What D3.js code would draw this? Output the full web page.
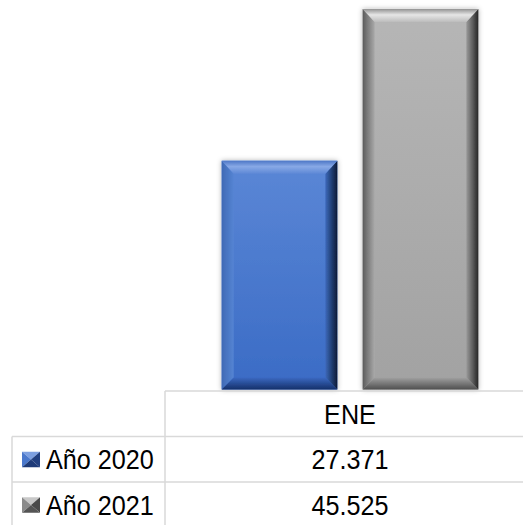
<!DOCTYPE html>
<html>
<head>
<meta charset="utf-8">
<script src="https://cdn.jsdelivr.net/npm/d3@7"></script>
<style>
  html, body { margin: 0; padding: 0; background: #ffffff; }
  svg { display: block; }
  text { font-family: "Liberation Sans", Arial, sans-serif; fill: #000; }
</style>
</head>
<body>
<script>
// Monthly values per year (thousands)
const categories = ["ENE"];
const seriesNames = ["Año 2020", "Año 2021"];
const values2020 = [27.371];
const values2021 = [45.525];
const valueLabels2020 = ["27.371"];
const valueLabels2021 = ["45.525"];

const series = [
  { name: seriesNames[0], values: values2020, labels: valueLabels2020, key: "s0" },
  { name: seriesNames[1], values: values2021, labels: valueLabels2021, key: "s1" }
];

// Bevel palettes for each series
const palettes = {
  s0: {
    bodyTop: "#5b87d6", bodyBottom: "#3a6bc5",
    topOuter: "#4d77c6", topHi: "#88a9e6", topInner: "#5e88d6",
    leftOuter: "#3f6ab5", leftInner: "#5584d3",
    rightOuter: "#0c1a35", rightInner: "#3c69bb",
    bottomOuter: "#16306a", bottomInner: "#3a69c2",
    keyTop: "#7c9fe0", keyLeft: "#4a78cc", keyRight: "#213f80", keyBottom: "#1d3a78"
  },
  s1: {
    bodyTop: "#b6b6b6", bodyBottom: "#a2a2a2",
    topOuter: "#929292", topHi: "#e6e6e6", topInner: "#bcbcbc",
    leftOuter: "#5c5c5c", leftInner: "#a9a9a9",
    rightOuter: "#262626", rightInner: "#9a9a9a",
    bottomOuter: "#505050", bottomInner: "#a0a0a0",
    keyTop: "#c8c8c8", keyLeft: "#8a8a8a", keyRight: "#4a4a4a", keyBottom: "#555555"
  }
};

const W = 523, H = 525;
const baseY = 389.5;          // bottom of the bars
const tableTop = 391;
const rowH = 45.5;
const leftX = 12, catX = 165, rightX = 535;

const svg = d3.select("body").append("svg")
  .attr("width", W).attr("height", H);

const defs = svg.append("defs");

const shadow = defs.append("filter").attr("id", "barShadow")
  .attr("x", "-10%").attr("y", "-10%").attr("width", "120%").attr("height", "120%");
shadow.append("feDropShadow")
  .attr("dx", 0).attr("dy", 0).attr("stdDeviation", 2.5)
  .attr("flood-color", "#000").attr("flood-opacity", 0.3);

function grad(id, x1, y1, x2, y2, stops) {
  const g = defs.append("linearGradient").attr("id", id)
    .attr("x1", x1).attr("y1", y1).attr("x2", x2).attr("y2", y2);
  stops.forEach(([o, c]) => g.append("stop").attr("offset", o).attr("stop-color", c));
}

Object.entries(palettes).forEach(([k, p]) => {
  grad(k + "-body", 0, 0, 0, 1, [[0, p.bodyTop], [1, p.bodyBottom]]);
  grad(k + "-top", 0, 0, 0, 1, [[0, p.topOuter], [0.45, p.topHi], [1, p.topInner]]);
  grad(k + "-left", 0, 0, 1, 0, [[0, p.leftOuter], [1, p.leftInner]]);
  grad(k + "-right", 1, 0, 0, 0, [[0, p.rightOuter], [1, p.rightInner]]);
  grad(k + "-bottom", 0, 1, 0, 0, [[0, p.bottomOuter], [1, p.bottomInner]]);
});

// Scales
const x0 = d3.scaleBand().domain(categories).range([catX, rightX])
  .paddingInner(0).paddingOuter(0.221);
const x1 = d3.scaleBand().domain(series.map(s => s.key))
  .range([0, x0.bandwidth()]).paddingInner(0.18);
const y = d3.scaleLinear().domain([0, 46.6]).range([baseY, 0]);

// Bars with bevelled faces
const bars = [];
categories.forEach((c, i) => {
  series.forEach(s => {
    bars.push({ cat: c, key: s.key, value: s.values[i] });
  });
});

const barG = svg.append("g").selectAll("g.bar").data(bars).join("g")
  .attr("class", "bar")
  .attr("filter", "url(#barShadow)");

barG.each(function(d) {
  const g = d3.select(this);
  const xa = x0(d.cat) + x1(d.key);
  const xb = xa + x1.bandwidth();
  const ya = y(d.value);
  const yb = y(0);
  const bt = 13, bs = 12, bb = 12;
  g.append("rect").attr("x", xa).attr("y", ya)
    .attr("width", xb - xa).attr("height", yb - ya)
    .attr("fill", `url(#${d.key}-body)`);
  const poly = pts => pts.map(p => p.join(",")).join(" ");
  g.append("polygon").attr("fill", `url(#${d.key}-left)`)
    .attr("points", poly([[xa, ya], [xa + bs, ya + bt], [xa + bs, yb - bb], [xa, yb]]));
  g.append("polygon").attr("fill", `url(#${d.key}-right)`)
    .attr("points", poly([[xb, ya], [xb, yb], [xb - bs, yb - bb], [xb - bs, ya + bt]]));
  g.append("polygon").attr("fill", `url(#${d.key}-bottom)`)
    .attr("points", poly([[xa, yb], [xa + bs, yb - bb], [xb - bs, yb - bb], [xb, yb]]));
  g.append("polygon").attr("fill", `url(#${d.key}-top)`)
    .attr("points", poly([[xa, ya], [xb, ya], [xb - bs, ya + bt], [xa + bs, ya + bt]]));
});

// Data table grid
const grid = svg.append("g").attr("stroke", "#d9d9d9").attr("stroke-width", 1.5);
const rowYs = [tableTop, tableTop + rowH, tableTop + 2 * rowH, tableTop + 3 * rowH];
grid.append("line").attr("x1", catX).attr("x2", rightX).attr("y1", rowYs[0]).attr("y2", rowYs[0]);
[1, 2, 3].forEach(r => {
  grid.append("line").attr("x1", leftX).attr("x2", rightX).attr("y1", rowYs[r]).attr("y2", rowYs[r]);
});
grid.append("line").attr("x1", catX).attr("x2", catX).attr("y1", rowYs[0]).attr("y2", rowYs[3]);
grid.append("line").attr("x1", leftX).attr("x2", leftX).attr("y1", rowYs[1]).attr("y2", rowYs[3]);

// Table text: tall, slightly condensed lettering
const fontSize = 28;
const squeeze = 0.9;
const capOff = 10;
function cellText(parent, x, yPos, str, anchor) {
  parent.append("text")
    .attr("transform", `translate(${x},${yPos}) scale(${squeeze},1)`)
    .attr("text-anchor", anchor)
    .attr("font-size", fontSize)
    .text(str);
}

const textG = svg.append("g");
categories.forEach(c => {
  cellText(textG, x0(c) + x0.bandwidth() / 2, (rowYs[0] + rowYs[1]) / 2 + capOff, c, "middle");
});

series.forEach((s, si) => {
  const cy = (rowYs[si + 1] + rowYs[si + 2]) / 2;
  const p = palettes[s.key];
  // legend key: small pyramid square
  const kx = 22, kw = 18, kh = 15.5, ky = cy - 7.5;
  const kg = svg.append("g");
  const cxk = kx + kw / 2, cyk = ky + kh / 2;
  const tri = (a, b, fill) => kg.append("polygon").attr("fill", fill)
    .attr("points", [a, b, [cxk, cyk]].map(q => q.join(",")).join(" "));
  tri([kx, ky], [kx + kw, ky], p.keyTop);
  tri([kx, ky], [kx, ky + kh], p.keyLeft);
  tri([kx + kw, ky], [kx + kw, ky + kh], p.keyRight);
  tri([kx, ky + kh], [kx + kw, ky + kh], p.keyBottom);

  cellText(textG, 46, cy + capOff, s.name, "start");
  categories.forEach((c, i) => {
    cellText(textG, x0(c) + x0.bandwidth() / 2, cy + capOff, s.labels[i], "middle");
  });
});
</script>
</body>
</html>
